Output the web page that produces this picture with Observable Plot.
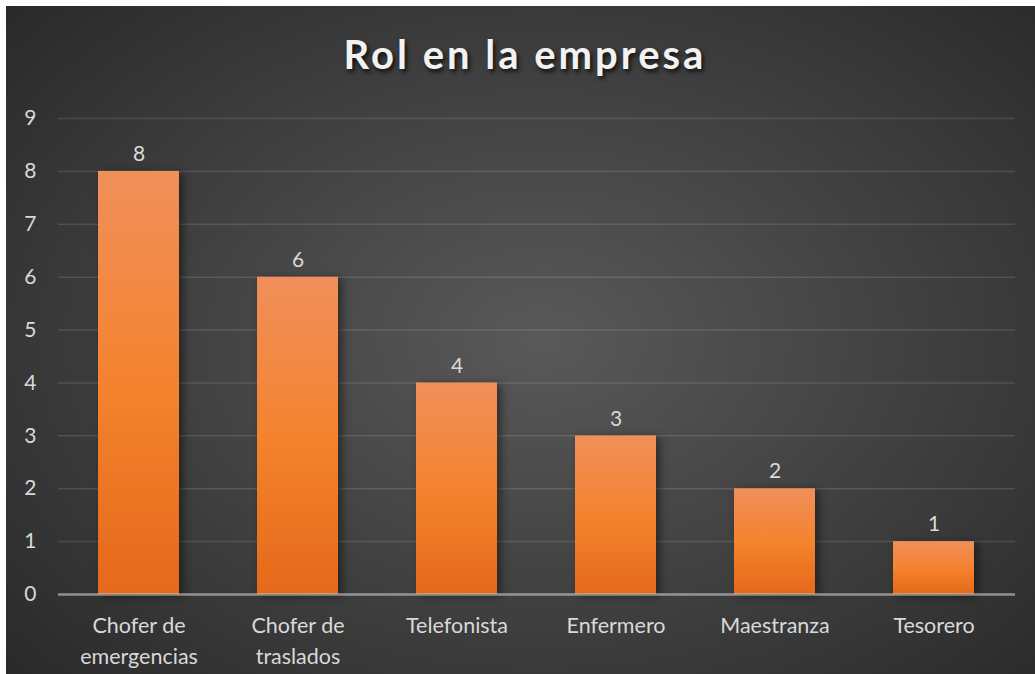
<!DOCTYPE html>
<html>
<head>
<meta charset="utf-8">
<script src="https://cdn.jsdelivr.net/npm/d3@7"></script>
<script src="https://cdn.jsdelivr.net/npm/@observablehq/plot@0.6"></script>
<style>
  html, body { margin: 0; padding: 0; background: #ffffff; }
  #page { position: relative; width: 1035px; height: 674px; overflow: hidden; background: #ffffff; }
  #panel {
    position: absolute; left: 6px; top: 6px; width: 1029px; height: 668px;
    background: radial-gradient(ellipse 75% 80% at 52% 50%, #595959 0%, #3d3d3d 55%, #262626 100%);
  }
  #title {
    position: absolute; left: 0; top: 30px; width: 1050px; text-align: center;
    font-family: Lato, "Open Sans", sans-serif; font-weight: bold; font-size: 40px;
    letter-spacing: 3px; color: #f2f2f2;
    text-shadow: 2px 3px 4px rgba(0,0,0,0.75);
  }
  #chart { position: absolute; left: 0; top: 95px; }
  #chart svg { background: transparent; overflow: visible; }
</style>
</head>
<body>
<div id="page">
  <div id="panel"></div>
  <div id="title">Rol en la empresa</div>
  <div id="chart"></div>
</div>
<script>
const categories = ["Chofer de emergencias", "Chofer de traslados", "Telefonista", "Enfermero", "Maestranza", "Tesorero"];
const values = [8, 6, 4, 3, 2, 1];
const yTicks = [0, 1, 2, 3, 4, 5, 6, 7, 8, 9];
const title = "Rol en la empresa";

document.getElementById("title").textContent = title;

const data = categories.map((c, i) => ({category: c, value: values[i]}));
const textColor = "#d9d9d9";

const plot = Plot.plot({
  width: 1035,
  height: 579,
  marginTop: 23,
  marginBottom: 80,
  marginLeft: 58,
  marginRight: 20,
  style: {background: "transparent", fontFamily: "Lato, 'Open Sans', sans-serif", color: textColor},
  x: {domain: categories, paddingInner: 0.49, paddingOuter: 0.245, label: null},
  y: {domain: [0, 9], label: null},
  marks: [
    Plot.ruleY(yTicks.filter(d => d > 0), {stroke: "#ffffff", strokeOpacity: 0.12, strokeWidth: 1.5}),
    Plot.barY(data, {x: "category", y: "value", fill: "url(#barGrad)"}),
    Plot.ruleY([0], {stroke: "#d0d0d0", strokeOpacity: 0.6, strokeWidth: 2.5}),
    Plot.text(data, {x: "category", y: "value", text: d => String(d.value), dy: -17, fill: textColor, fontSize: 21}),
    Plot.axisY({ticks: yTicks, tickSize: 0, tickPadding: 22, fontSize: 21, fill: textColor, label: null}),
    Plot.axisX({tickSize: 0, tickPadding: 16, fontSize: 21.5, fill: textColor, lineHeight: 1.45, label: null,
      tickFormat: d => d.replace("Chofer de ", "Chofer de\n")})
  ]
});

const defs = d3.select(plot).insert("defs", ":first-child");
const g = defs.append("linearGradient").attr("id", "barGrad").attr("x1", 0).attr("y1", 0).attr("x2", 0).attr("y2", 1);
g.append("stop").attr("offset", "0%").attr("stop-color", "#f08f5a");
g.append("stop").attr("offset", "50%").attr("stop-color", "#f4832f");
g.append("stop").attr("offset", "100%").attr("stop-color", "#e5691a");
d3.select(plot).selectAll("g[aria-label='bar']").style("filter", "drop-shadow(4px 2px 4px rgba(0,0,0,0.45))");

document.getElementById("chart").appendChild(plot);
</script>
</body>
</html>
